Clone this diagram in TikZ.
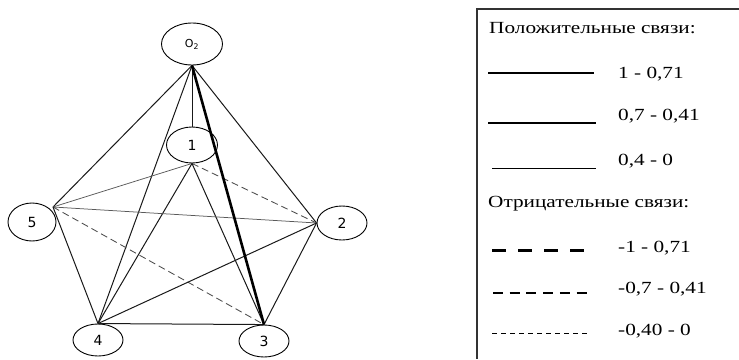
\documentclass[tikz,border=0pt]{standalone}
\usepackage{fontspec}
\setmainfont{Liberation Serif}
\newfontfamily\labfont{DejaVu Sans}
\newfontfamily\legfont[FakeStretch=1.25]{Liberation Serif}
\usetikzlibrary{shapes.geometric}
\begin{document}
\begin{tikzpicture}[x=1pt,y=-1pt,
  vert/.style={draw, ellipse, line width=0.9pt, inner sep=0pt,
    minimum width=50pt, minimum height=34pt,
    font=\labfont\fontsize{14}{14}\selectfont},
  posedge/.style={line width=1pt, black!90},
  weakedge/.style={line width=0.75pt, black!65},
  strongedge/.style={line width=2.6pt, black},
  negedge/.style={line width=0.85pt, black!70, dash pattern=on 7pt off 4pt},
  legtext/.style={anchor=base west, inner sep=0pt,
    font=\legfont\fontsize{17}{17}\selectfont},
  lgA/.style={line width=2.6pt},
  lgB/.style={line width=2pt},
  lgC/.style={line width=1pt},
  lgD/.style={line width=3pt, dash pattern=on 14pt off 12pt},
  lgE/.style={line width=2pt, dash pattern=on 10pt off 6.7pt},
  lgF/.style={line width=1pt, dash pattern=on 5pt off 4pt},
  frame/.style={line width=1.6pt, black!80}
]
\useasboundingbox (0,0) rectangle (739,359);

% vertices
\node[vert, minimum width=61pt, minimum height=42pt, font=\labfont\fontsize{11}{11}\selectfont] (O) at (192,44) {O\textsubscript{2}};
\node[vert, minimum width=51pt, minimum height=36pt] (n1) at (192,145) {1};
\node[vert, minimum width=48pt, minimum height=38pt] (n5) at (32,222) {5};
\node[vert] (n2) at (342,223) {2};
\node[vert, minimum height=32pt] (n4) at (98,340) {4};
\node[vert, minimum height=32pt] (n3) at (264,341) {3};
\coordinate (c5) at (53,207);

% edges
\draw[posedge] (O.south) -- (c5);
\draw[posedge] (O.south) -- (n4.north);
\draw[posedge] (O.south) -- (n1.north);
\draw[posedge] (O.south) -- (n2.west);
\draw[weakedge] (n1.south) -- (c5);
\draw[negedge] (n1.south) -- (n2.west);
\draw[posedge] (n1.south) -- (n4.north);
\draw[posedge] (n1.south) -- (n3.north);
\draw[weakedge] (c5) -- (n2.west);
\draw[negedge] (c5) -- (n3.north);
\draw[posedge] (c5) -- (n4.north);
\draw[posedge] (n4.north) -- (n2.west);
\draw[posedge] (n4.north) -- (n3.north);
\draw[posedge] (n2.west) -- (n3.north);
\draw[strongedge] (O.south) -- (n3.north);

% legend frame
\draw[frame] (739,9) -- (477,9) -- (477,359);

% legend texts
\node[legtext] (hp) at (489,33) {Положительные связи:};
\node[legtext] (t1) at (618,78) {1 - 0,71};
\node[legtext] (t2) at (618,120) {0,7 - 0,41};
\node[legtext] (t3) at (618,165) {0,4 - 0};
\node[legtext] (hn) at (488,207) {Отрицательные связи:};
\node[legtext] (t4) at (618,252) {-1 - 0,71};
\node[legtext] (t5) at (618,293) {-0,7 - 0,41};
\node[legtext] (t6) at (618,335) {-0,40 - 0};

% legend samples
\draw[lgA] (488,73) -- (594,73);
\draw[lgB] (488,123) -- (596,123);
\draw[lgC] (492,168) -- (596,168);
\draw[lgD] (492,250) -- (588,250);
\draw[lgE] (493,292.5) -- (590,292.5);
\draw[lgF] (492,333) -- (590,333);
\end{tikzpicture}
\end{document}
